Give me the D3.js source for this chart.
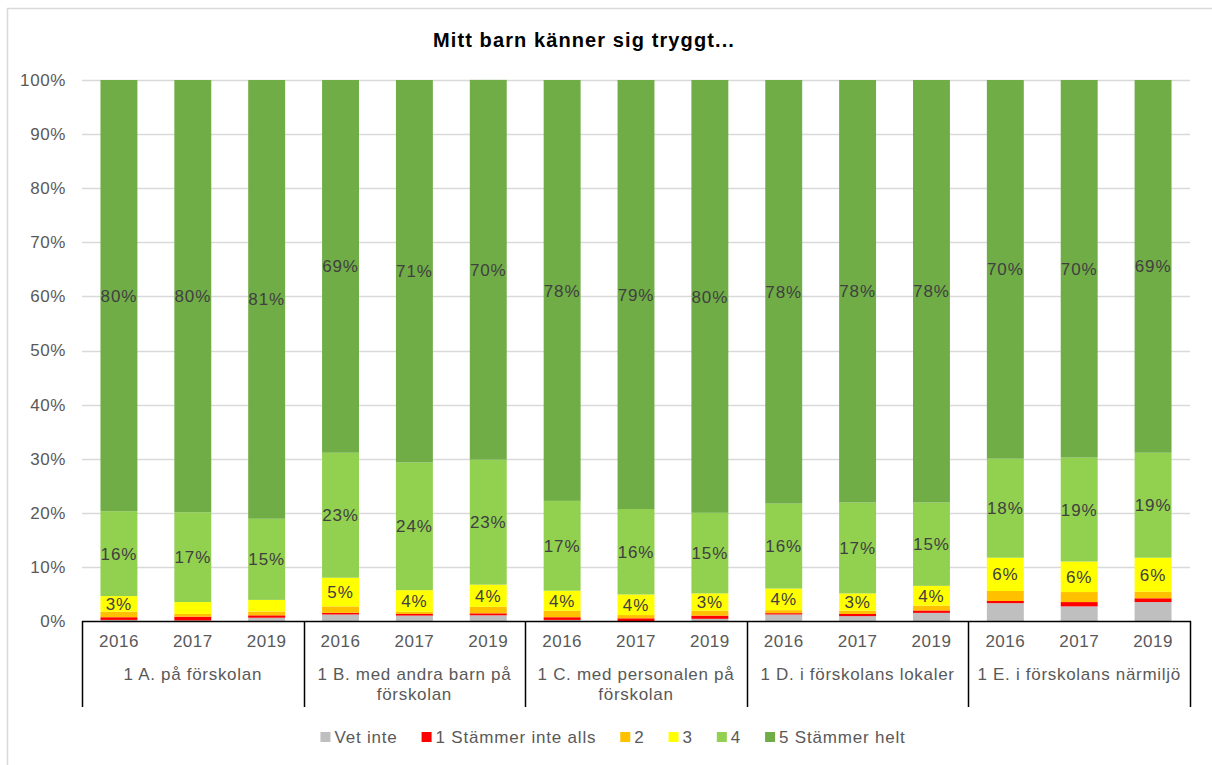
<!DOCTYPE html>
<html>
<head>
<meta charset="utf-8">
<script src="https://cdn.jsdelivr.net/npm/d3@7"></script>
<style>
  body { margin: 0; background: #fff; }
  text { font-family: 'Liberation Sans', Arial, sans-serif; }
</style>
</head>
<body>
<div class="chart"></div>
<script>
const groups = [
  '1 A. på förskolan',
  '1 B. med andra barn på förskolan',
  '1 C. med personalen på förskolan',
  '1 D. i förskolans lokaler',
  '1 E. i förskolans närmiljö',
];
const groupLines = [
  ['1 A. på förskolan'],
  ['1 B. med andra barn på', 'förskolan'],
  ['1 C. med personalen på', 'förskolan'],
  ['1 D. i förskolans lokaler'],
  ['1 E. i förskolans närmiljö'],
];
const years = ['2016', '2017', '2019'];
const seriesNames = ['Vet inte', '1 Stämmer inte alls', '2', '3', '4', '5 Stämmer helt'];
const seriesColors = ['#bfbfbf', '#ff0000', '#ffc000', '#ffff00', '#92d050', '#70ad47'];

// one value per bar, groups A..E, years 2016/2017/2019
const vetInte = [0.2, 0.1, 0.6, 1.2, 1.0, 1.05, 0.2, 0.0, 0.4, 1.2, 0.9, 1.5, 3.3, 2.7, 3.5];
const s1 = [0.5, 0.7, 0.45, 0.3, 0.3, 0.37, 0.5, 0.5, 0.6, 0.25, 0.4, 0.45, 0.4, 0.8, 0.7];
const s2 = [1.0, 0.5, 0.7, 1.2, 0.4, 1.2, 1.2, 0.6, 0.9, 0.55, 0.6, 0.9, 1.85, 1.85, 1.2];
const s3 = [2.9, 2.2, 2.15, 5.3, 4.0, 4.1, 3.7, 3.8, 3.2, 4.0, 3.2, 3.65, 6.15, 5.65, 6.3];
const s4 = [15.7, 16.6, 15.0, 23.1, 23.6, 23.1, 16.6, 15.8, 14.9, 15.7, 16.8, 15.4, 18.3, 19.2, 19.4];
const s5 = [79.7, 79.9, 81.1, 68.9, 70.7, 70.2, 77.8, 79.3, 80.0, 78.3, 78.1, 78.1, 70.0, 69.8, 68.9];
const seriesValues = [vetInte, s1, s2, s3, s4, s5];
const labelledSeries = [3, 4, 5];
const yTicks = [0, 10, 20, 30, 40, 50, 60, 70, 80, 90, 100];

function buildRows() {
  const rows = [];
  groups.forEach((g, gi) => {
    years.forEach((yr, yi) => {
      const idx = gi * years.length + yi;
      let base = 0;
      const segs = seriesValues.map((vals, si) => {
        const seg = { series: si, y0: base, y1: base + vals[idx], value: vals[idx] };
        base += vals[idx];
        return seg;
      });
      rows.push({ group: g, year: yr, segs: segs });
    });
  });
  return rows;
}

function draw() {
  const width = 1212;
  const height = 765;
  const margin = { left: 82, right: 22, top: 80, bottom: 144 };
  const plotBottom = height - margin.bottom;

  const svg = d3
    .select('.chart')
    .append('svg')
    .attr('width', width)
    .attr('height', height);

  svg.append('rect').attr('width', width).attr('height', height).attr('fill', '#fff');

  // outer chart frame (only top and left are inside the picture)
  svg
    .append('path')
    .attr('d', 'M7.5,' + height + 'V8.5H' + width)
    .attr('fill', 'none')
    .attr('stroke', '#d9d9d9')
    .attr('stroke-width', 1.5);

  svg
    .append('text')
    .attr('x', 584)
    .attr('y', 47)
    .attr('text-anchor', 'middle')
    .style('font-size', '20px')
    .style('letter-spacing', '1.1px')
    .style('font-weight', 'bold')
    .attr('fill', '#000')
    .text('Mitt barn känner sig tryggt...');

  const y = d3.scaleLinear().domain([0, 100]).range([plotBottom, margin.top]);
  const x0 = d3
    .scaleBand()
    .domain(groups)
    .range([margin.left, width - margin.right]);
  const x1 = d3
    .scaleBand()
    .domain(years)
    .range([0, x0.bandwidth()])
    .paddingInner(0.5)
    .paddingOuter(0.25);

  // gridlines
  svg
    .append('g')
    .selectAll('line')
    .data(yTicks.slice(1))
    .join('line')
    .attr('x1', margin.left)
    .attr('x2', width - margin.right)
    .attr('y1', (d) => Math.round(y(d)) + 0.5)
    .attr('y2', (d) => Math.round(y(d)) + 0.5)
    .attr('stroke', '#d9d9d9')
    .attr('stroke-width', 1.3);

  const yAxis = svg
    .append('g')
    .attr('transform', 'translate(' + margin.left + ',0)')
    .call(
      d3
        .axisLeft(y)
        .tickValues(yTicks)
        .tickSize(0)
        .tickPadding(16)
        .tickFormat((d) => d + '%')
    );
  yAxis.select('.domain').remove();
  yAxis
    .selectAll('text')
    .style('font-size', '17px')
    .style('letter-spacing', '0.6px')
    .style('font-family', "'Liberation Sans', Arial, sans-serif")
    .attr('fill', '#595959');

  const rows = buildRows();

  const bars = svg
    .append('g')
    .selectAll('g')
    .data(rows)
    .join('g')
    .attr('transform', (d) => 'translate(' + (x0(d.group) + x1(d.year)) + ',0)');

  bars
    .selectAll('rect')
    .data((d) => d.segs)
    .join('rect')
    .attr('x', 0)
    .attr('width', x1.bandwidth())
    .attr('y', (d) => y(d.y1))
    .attr('height', (d) => y(d.y0) - y(d.y1))
    .attr('fill', (d) => seriesColors[d.series]);

  bars
    .selectAll('text')
    .data((d) =>
      d.segs.filter((s) => labelledSeries.includes(s.series) && s.value >= 2.5)
    )
    .join('text')
    .attr('x', x1.bandwidth() / 2)
    .attr('y', (d) => (y(d.y0) + y(d.y1)) / 2)
    .attr('dy', '0.36em')
    .attr('text-anchor', 'middle')
    .style('font-size', '17px')
    .style('letter-spacing', '0.9px')
    .attr('fill', '#404040')
    .text((d) => Math.round(d.value) + '%');

  // category axis box
  const axisG = svg.append('g');
  axisG
    .append('line')
    .attr('x1', margin.left)
    .attr('x2', width - margin.right + 1)
    .attr('y1', plotBottom + 0.5)
    .attr('y2', plotBottom + 0.5)
    .attr('stroke', '#000')
    .attr('stroke-width', 1.5);

  const edges = groups.map((g) => x0(g)).concat([width - margin.right]);
  axisG
    .selectAll('.sep')
    .data(edges)
    .join('line')
    .attr('class', 'sep')
    .attr('x1', (d) => Math.round(d) + 0.5)
    .attr('x2', (d) => Math.round(d) + 0.5)
    .attr('y1', plotBottom)
    .attr('y2', plotBottom + 86)
    .attr('stroke', '#000')
    .attr('stroke-width', 1.5);

  axisG
    .selectAll('.year')
    .data(rows)
    .join('text')
    .attr('class', 'year')
    .attr('x', (d) => x0(d.group) + x1(d.year) + x1.bandwidth() / 2)
    .attr('y', plotBottom + 26)
    .attr('text-anchor', 'middle')
    .style('font-size', '17px')
    .style('letter-spacing', '0.5px')
    .attr('fill', '#595959')
    .text((d) => d.year);

  groups.forEach((g, gi) => {
    axisG
      .append('text')
      .attr('x', x0(g) + x0.bandwidth() / 2)
      .attr('y', plotBottom + 59)
      .attr('text-anchor', 'middle')
      .style('font-size', '17px')
      .style('letter-spacing', '0.7px')
      .attr('fill', '#595959')
      .selectAll('tspan')
      .data(groupLines[gi])
      .join('tspan')
      .attr('x', x0(g) + x0.bandwidth() / 2)
      .attr('dy', (d, i) => (i === 0 ? 0 : 20))
      .text((d) => d);
  });

  // legend
  const legend = svg.append('g');
  const items = legend
    .selectAll('g')
    .data(seriesNames)
    .join('g');
  items
    .append('rect')
    .attr('width', 10)
    .attr('height', 10)
    .attr('y', -5)
    .attr('fill', (d, i) => seriesColors[i]);
  items
    .append('text')
    .attr('x', 14)
    .attr('dy', '0.36em')
    .style('font-size', '17px')
    .style('letter-spacing', '0.8px')
    .attr('fill', '#595959')
    .text((d) => d);

  let pos = 0;
  const gap = 24;
  items.each(function () {
    const w = this.getBBox().width;
    d3.select(this).attr('data-x', pos);
    pos += w + gap;
  });
  const total = pos - gap;
  const start = 613 - total / 2;
  items.attr('transform', function () {
    return 'translate(' + (start + +this.getAttribute('data-x')) + ',737)';
  });
}

draw();
</script>
</body>
</html>
